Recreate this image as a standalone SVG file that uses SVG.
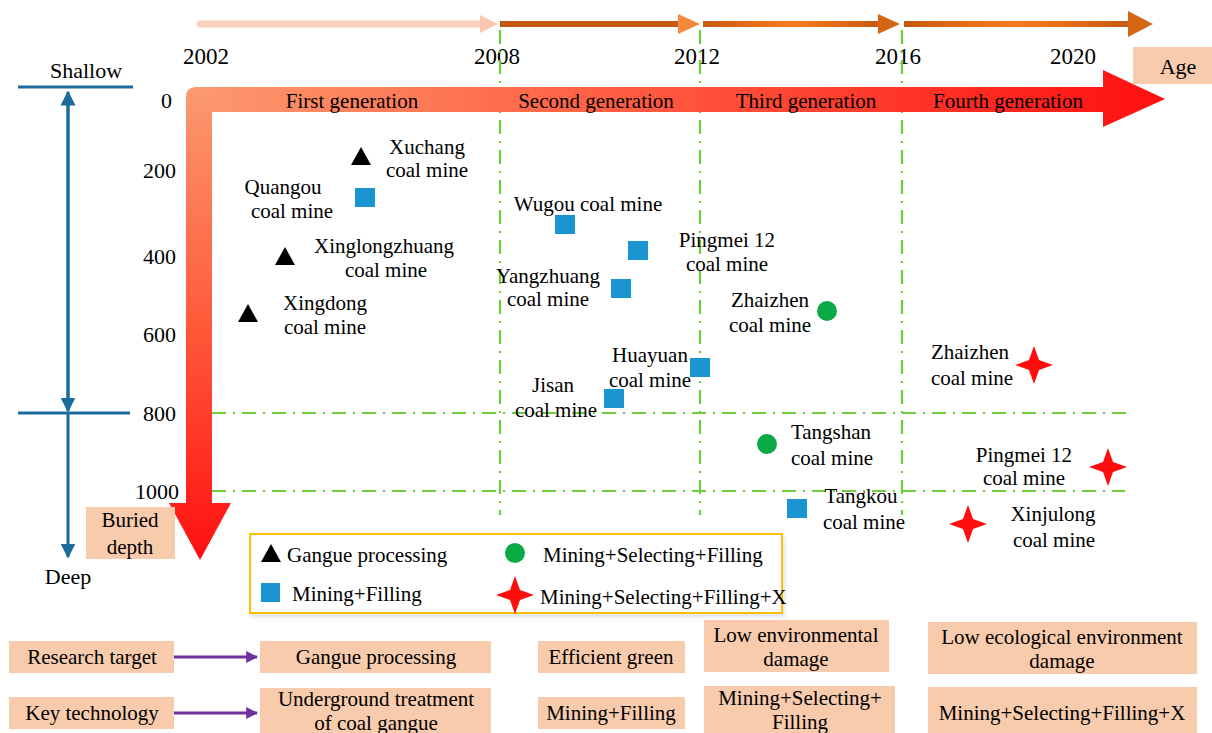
<svg xmlns="http://www.w3.org/2000/svg" width="1212" height="733" viewBox="0 0 1212 733" font-family="'Liberation Serif', 'Times New Roman', serif">
<style>
text{font-family:"Liberation Serif","Times New Roman",serif;fill:#000}
.lb{font-size:21px;text-anchor:middle}
.yr{font-size:23px;text-anchor:middle}
.dp{font-size:22px;text-anchor:end}
.gen{font-size:21px;text-anchor:middle}
.bx{fill:#f8cbad}
.bt{font-size:21px;text-anchor:middle}
.grn{stroke:#6ccf3a;stroke-width:2.2;fill:none;stroke-dasharray:14 7 2 7}
.blue{stroke:#1b6c9c;stroke-width:3;fill:none}
.sq{fill:#1a95d2}
.ci{fill:#0aab44}
.st{fill:#ff0d0d}
.pur{stroke:#7030a0;stroke-width:3;fill:none}
</style>
<defs>
<linearGradient id="gH" x1="188" y1="0" x2="1165" y2="0" gradientUnits="userSpaceOnUse">
<stop offset="0" stop-color="#fb9a70"/><stop offset="0.35" stop-color="#ff6a4a"/><stop offset="1" stop-color="#ff1010"/>
</linearGradient>
<linearGradient id="gV" x1="0" y1="87" x2="0" y2="560" gradientUnits="userSpaceOnUse">
<stop offset="0" stop-color="#fb9a70"/><stop offset="0.5" stop-color="#ff5a3a"/><stop offset="1" stop-color="#ff1010"/>
</linearGradient>
<linearGradient id="gT" x1="0" y1="0" x2="1" y2="0">
<stop offset="0" stop-color="#c55a11"/><stop offset="0.5" stop-color="#ff7a1a"/><stop offset="1" stop-color="#c55a11"/>
</linearGradient>
<path id="star" d="M0,-19 L5,-5 L19,0 L5,5 L0,19 L-5,5 L-19,0 L-5,-5 Z"/>
<path id="tri" d="M0,-9 L10,9 L-10,9 Z"/>
<marker id="ap" viewBox="0 0 10 10" refX="9" refY="5" markerWidth="4" markerHeight="4" orient="auto"><path d="M0,0 L10,5 L0,10 Z" fill="#7030a0"/></marker>
<marker id="ab" viewBox="0 0 10 10" refX="9" refY="5" markerWidth="5" markerHeight="5" orient="auto"><path d="M0,0 L10,5 L0,10 Z" fill="#1b6c9c"/></marker>
<filter id="sh" x="-10%" y="-10%" width="130%" height="140%"><feDropShadow dx="2" dy="3" stdDeviation="2" flood-color="#9fb0c0" flood-opacity="0.35"/></filter>
</defs>

<g id="timeline">
<line x1="200" y1="24" x2="482" y2="24" stroke="#fbd3bd" stroke-width="7" stroke-linecap="round"/>
<polygon points="480,15 498,24 480,33" fill="#fbc9ad"/>
<rect x="500" y="21" width="180" height="6" fill="#c55a11"/>
<polygon points="678,14 700,24 678,34" fill="#f5883f"/>
<rect x="703" y="21" width="177" height="6" fill="url(#gT)"/>
<polygon points="878,14 900,24 878,34" fill="#d46513"/>
<rect x="904" y="21" width="226" height="6" fill="url(#gT)"/>
<polygon points="1128,11 1153,24 1128,37" fill="#d46513"/>
<text class="yr" x="206" y="64">2002</text>
<text class="yr" x="497" y="64">2008</text>
<text class="yr" x="697" y="64">2012</text>
<text class="yr" x="898" y="64">2016</text>
<text class="yr" x="1073" y="64">2020</text>
</g>

<g id="depth-axis">
<line class="blue" x1="18" y1="87" x2="133" y2="87"/>
<line class="blue" x1="18" y1="413" x2="130" y2="413"/>
<line class="blue" x1="68" y1="410" x2="68" y2="92" marker-end="url(#ab)"/>
<line class="blue" x1="68" y1="95" x2="68" y2="411" marker-end="url(#ab)"/>
<line class="blue" x1="68" y1="413" x2="68" y2="557" marker-end="url(#ab)"/>
<text x="86" y="78" style="font-size:22px;text-anchor:middle">Shallow</text>
<text x="68" y="584" style="font-size:22px;text-anchor:middle">Deep</text>
<text class="dp" x="172" y="108">0</text>
<text class="dp" x="176" y="178">200</text>
<text class="dp" x="176" y="264">400</text>
<text class="dp" x="176" y="342">600</text>
<text class="dp" x="176" y="421">800</text>
<text class="dp" x="179" y="499">1000</text>
</g>

<g id="grid">
<line class="grn" x1="500" y1="30" x2="500" y2="515"/>
<line class="grn" x1="700" y1="30" x2="700" y2="515"/>
<line class="grn" x1="902" y1="30" x2="902" y2="515"/>
<line class="grn" x1="212" y1="413" x2="1130" y2="413"/>
<line class="grn" x1="212" y1="491" x2="1125" y2="491"/>
</g>

<g id="main-arrow">
<path d="M186,503 L186,97 Q186,87 196,87 L212,87 L212,112 L212,503 L231,503 L200,560 L169,503 Z" fill="url(#gV)"/>
<path d="M211,87 L1103,87 L1103,70 L1165,99 L1103,127 L1103,112 L211,112 Z" fill="url(#gH)"/>
<text class="gen" x="352" y="108">First generation</text>
<text class="gen" x="596" y="108">Second generation</text>
<text class="gen" x="806" y="108">Third generation</text>
<text class="gen" x="1008" y="108">Fourth generation</text>
</g>

<g id="age-label">
<rect class="bx" x="1133" y="47" width="79" height="37"/>
<text x="1178" y="74" style="font-size:22px;text-anchor:middle">Age</text>
</g>
<g id="depth-label">
<rect class="bx" x="86" y="507" width="89" height="52"/>
<text x="130" y="527" style="font-size:21px;text-anchor:middle">Buried</text>
<text x="130" y="554" style="font-size:21px;text-anchor:middle">depth</text>
</g>

<g id="xuchang"><use href="#tri" x="361" y="156"/><text class="lb" x="427" y="154">Xuchang</text><text class="lb" x="427" y="177">coal mine</text></g>
<g id="quangou"><rect class="sq" x="355" y="188" width="20" height="19"/><text class="lb" x="283" y="194">Quangou</text><text class="lb" x="292" y="218">coal mine</text></g>
<g id="xinglongzhuang"><use href="#tri" x="285" y="256"/><text class="lb" x="384" y="253">Xinglongzhuang</text><text class="lb" x="386" y="277">coal mine</text></g>
<g id="xingdong"><use href="#tri" x="248" y="313"/><text class="lb" x="325" y="310">Xingdong</text><text class="lb" x="325" y="334">coal mine</text></g>
<g id="wugou"><rect class="sq" x="555" y="215" width="20" height="19"/><text class="lb" x="588" y="211">Wugou coal mine</text></g>
<g id="pingmei12-2"><rect class="sq" x="628" y="241" width="20" height="19"/><text class="lb" x="727" y="247">Pingmei 12</text><text class="lb" x="727" y="271">coal mine</text></g>
<g id="yangzhuang"><rect class="sq" x="611" y="279" width="20" height="19"/><text class="lb" x="548" y="283">Yangzhuang</text><text class="lb" x="548" y="306">coal mine</text></g>
<g id="zhaizhen-3"><circle class="ci" cx="827" cy="311" r="10"/><text class="lb" x="770" y="307">Zhaizhen</text><text class="lb" x="770" y="332">coal mine</text></g>
<g id="huayuan"><rect class="sq" x="690" y="358" width="20" height="19"/><text class="lb" x="650" y="362">Huayuan</text><text class="lb" x="650" y="387">coal mine</text></g>
<g id="jisan"><rect class="sq" x="604" y="389" width="20" height="19"/><text class="lb" x="553" y="392">Jisan</text><text class="lb" x="556" y="417">coal mine</text></g>
<g id="tangshan"><circle class="ci" cx="767" cy="444" r="10"/><text class="lb" x="831" y="439">Tangshan</text><text class="lb" x="832" y="465">coal mine</text></g>
<g id="tangkou"><rect class="sq" x="787" y="499" width="20" height="19"/><text class="lb" x="861" y="503">Tangkou</text><text class="lb" x="864" y="529">coal mine</text></g>
<g id="zhaizhen-4"><use class="st" href="#star" x="1034" y="365"/><text class="lb" x="970" y="359">Zhaizhen</text><text class="lb" x="972" y="385">coal mine</text></g>
<g id="pingmei12-4"><use class="st" href="#star" x="1108" y="467"/><text class="lb" x="1024" y="462">Pingmei 12</text><text class="lb" x="1024" y="485">coal mine</text></g>
<g id="xinjulong"><use class="st" href="#star" x="968" y="524"/><text class="lb" x="1053" y="521">Xinjulong</text><text class="lb" x="1054" y="547">coal mine</text></g>

<g id="legend">
<rect x="250" y="534" width="532" height="79" fill="#fff" stroke="#ffc000" stroke-width="2" filter="url(#sh)"/>
<use href="#tri" x="271" y="553"/>
<text x="287" y="562" style="font-size:21px">Gangue processing</text>
<rect class="sq" x="261" y="583" width="19" height="19"/>
<text x="292" y="601" style="font-size:21px">Mining+Filling</text>
<circle class="ci" cx="515" cy="553" r="10"/>
<text x="543" y="562" style="font-size:21px">Mining+Selecting+Filling</text>
<use class="st" href="#star" x="515" y="595"/>
<text x="540" y="604" style="font-size:21px">Mining+Selecting+Filling+X</text>
</g>

<g id="research-target"><rect class="bx" x="9" y="641" width="165" height="32"/><text class="bt" x="92" y="664">Research target</text></g>
<g id="key-technology"><rect class="bx" x="9" y="697" width="165" height="32"/><text class="bt" x="92" y="720">Key technology</text></g>
<g id="t1"><rect class="bx" x="260" y="641" width="231" height="32"/><text class="bt" x="376" y="664">Gangue processing</text></g>
<g id="k1"><rect class="bx" x="260" y="688" width="231" height="45"/><text class="bt" x="376" y="706">Underground treatment</text><text class="bt" x="376" y="730">of coal gangue</text></g>
<g id="t2"><rect class="bx" x="538" y="641" width="147" height="32"/><text class="bt" x="611" y="664">Efficient green</text></g>
<g id="k2"><rect class="bx" x="538" y="697" width="147" height="32"/><text class="bt" x="611" y="720">Mining+Filling</text></g>
<g id="t3"><rect class="bx" x="704" y="620" width="185" height="52"/><text class="bt" x="796" y="642">Low environmental</text><text class="bt" x="796" y="666">damage</text></g>
<g id="k3"><rect class="bx" x="704" y="686" width="191" height="47"/><text class="bt" x="800" y="705">Mining+Selecting+</text><text class="bt" x="800" y="729">Filling</text></g>
<g id="t4"><rect class="bx" x="928" y="622" width="269" height="52"/><text class="bt" x="1062" y="644">Low ecological environment</text><text class="bt" x="1062" y="668">damage</text></g>
<g id="k4"><rect class="bx" x="928" y="687" width="269" height="46"/><text class="bt" x="1062" y="720">Mining+Selecting+Filling+X</text></g>

<g id="connectors">
<line class="pur" x1="174" y1="657" x2="257" y2="657" marker-end="url(#ap)"/>
<line class="pur" x1="174" y1="713" x2="257" y2="713" marker-end="url(#ap)"/>
</g>
</svg>
